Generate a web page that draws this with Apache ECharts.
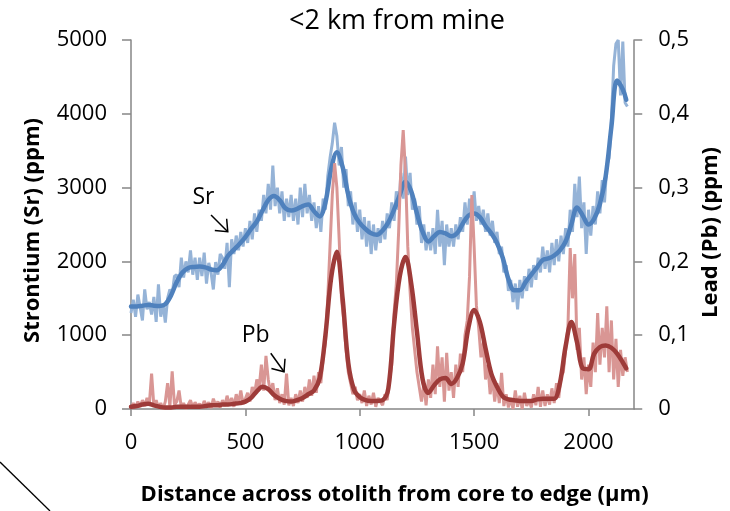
<!DOCTYPE html>
<html>
<head>
<meta charset="utf-8">
<script src="https://cdn.jsdelivr.net/npm/echarts@6/dist/echarts.min.js"></script>
<style>
  html, body { margin: 0; padding: 0; background: #fff; }
  #chart { width: 730px; height: 511px; }
</style>
</head>
<body>
<div id="chart"></div>
<script>
// Otolith transect: Sr (left axis, ppm) and Pb (right axis, ppm)

// raw laser-ablation readings, one every 10 µm from the core
const rawStep = 10;
const srRaw = [
  1300, 1480, 1250, 1550, 1380, 1200, 1620, 1350, 1450, 1280,
  1520, 1180, 1690, 1250, 1430, 1170, 1500, 1620, 1560, 1800,
  1820, 1650, 2050, 1780, 2000, 1850, 2150, 1820, 2050, 1750,
  2050, 1800, 2120, 1700, 1980, 1850, 1620, 1990, 1820, 2100,
  2050, 1900, 2250, 1650, 2300, 2100, 2350, 2150, 2400, 2200,
  2450, 2250, 2550, 2300, 2650, 2400, 2700, 2550, 2900, 2650,
  3050, 2700, 3300, 2750, 3000, 2650, 2950, 2550, 2850, 2600,
  2900, 2550, 2850, 2500, 3000, 2600, 3050, 2650, 2900, 2550,
  2800, 2450, 2750, 2400, 2850, 2700, 3150, 3400, 3600, 3880,
  3700, 3300, 3550, 3000, 3250, 2750, 2950, 2500, 2800, 2400,
  2700, 2300, 2600, 2200, 2550, 2100, 2500, 2150, 2450, 2250,
  2550, 2300, 2650, 2450, 2800, 2550, 2950, 2700, 3200, 2850,
  3420, 2900, 3200, 2700, 2850, 2500, 2750, 2250, 2500, 2150,
  2400, 2150, 2450, 2100, 2700, 2200, 2550, 1950, 2500, 2200,
  2450, 2200, 2500, 2300, 2600, 2400, 2800, 2500, 2850, 2600,
  2950, 2550, 2750, 2500, 2700, 2400, 2650, 2350, 2550, 2250,
  2400, 2100, 2200, 1850, 1950, 1600, 1750, 1450, 1700, 1350,
  1750, 1500, 1800, 1600, 1900, 1650, 1950, 1750, 2050, 1850,
  2200, 1900, 2150, 1850, 2250, 1950, 2300, 2000, 2350, 2100,
  2450, 2200, 2700, 2400, 3050, 2600, 3150, 2450, 2800, 2100,
  2700, 2350, 2750, 2500, 2950, 2650, 3100, 2800, 3300, 3400,
  3900, 4650, 4950, 5000, 4250, 4980, 4150, 4100
];
const pbRaw = [
  0.000, 0.008, 0.002, 0.010, 0.003, 0.012, 0.004, 0.015, 0.006, 0.048,
  0.004, 0.012, 0.002, 0.008, 0.000, 0.010, 0.035, 0.003, 0.051, 0.006,
  0.010, 0.025, 0.002, 0.008, 0.000, 0.006, 0.012, 0.002, 0.009, 0.004,
  0.007, 0.002, 0.011, 0.004, 0.009, 0.001, 0.014, 0.005, 0.010, 0.002,
  0.012, 0.004, 0.018, 0.006, 0.015, 0.003, 0.020, 0.008, 0.025, 0.007,
  0.014, 0.022, 0.010, 0.030, 0.020, 0.040, 0.028, 0.060, 0.025, 0.072,
  0.040, 0.022, 0.035, 0.012, 0.028, 0.008, 0.020, 0.006, 0.048, 0.005,
  0.015, 0.004, 0.020, 0.008, 0.025, 0.010, 0.030, 0.015, 0.040, 0.018,
  0.045, 0.022, 0.050, 0.035, 0.070, 0.090, 0.150, 0.220, 0.290, 0.333,
  0.300, 0.230, 0.150, 0.120, 0.080, 0.050, 0.035, 0.020, 0.030, 0.012,
  0.020, 0.008, 0.025, 0.004, 0.018, 0.006, 0.022, 0.003, 0.015, 0.010,
  0.005, 0.020, 0.012, 0.040, 0.060, 0.130, 0.170, 0.240, 0.330, 0.378,
  0.320, 0.220, 0.160, 0.110, 0.080, 0.050, 0.030, 0.010, 0.035, 0.005,
  0.040, 0.015, 0.060, 0.020, 0.085, 0.030, 0.070, 0.010, 0.076, 0.025,
  0.050, 0.015, 0.060, 0.030, 0.075, 0.050, 0.100, 0.120, 0.180, 0.290,
  0.220, 0.140, 0.110, 0.070, 0.090, 0.040, 0.060, 0.020, 0.045, 0.010,
  0.035, 0.008, 0.049, 0.004, 0.020, 0.002, 0.015, 0.000, 0.025, 0.003,
  0.018, 0.000, 0.022, 0.004, 0.012, 0.002, 0.020, 0.005, 0.030, 0.003,
  0.025, 0.004, 0.020, 0.006, 0.028, 0.008, 0.035, 0.015, 0.045, 0.050,
  0.080, 0.110, 0.218, 0.150, 0.210, 0.080, 0.110, 0.040, 0.070, 0.020,
  0.060, 0.030, 0.090, 0.050, 0.130, 0.060, 0.110, 0.070, 0.139, 0.050,
  0.120, 0.040, 0.095, 0.030, 0.080, 0.045, 0.070, 0.050
];

// running-mean curves
const smoothDist = [
  0, 25, 50, 75, 100, 125, 150, 175, 200, 225,
  250, 275, 300, 325, 350, 375, 400, 425, 450, 475,
  500, 525, 550, 575, 600, 625, 650, 675, 700, 725,
  750, 775, 800, 825, 850, 875, 900, 925, 950, 975,
  1000, 1025, 1050, 1075, 1100, 1125, 1150, 1175, 1200, 1225,
  1250, 1275, 1300, 1325, 1350, 1375, 1400, 1425, 1450, 1475,
  1500, 1525, 1550, 1575, 1600, 1625, 1650, 1675, 1700, 1725,
  1750, 1775, 1800, 1825, 1850, 1875, 1900, 1925, 1950, 1975,
  2000, 2025, 2050, 2075, 2100, 2125, 2150, 2165
];
const srSmooth = [
  1390, 1390, 1400, 1410, 1400, 1395, 1420, 1540, 1720, 1850,
  1910, 1925, 1930, 1920, 1890, 1880, 1950, 2080, 2160, 2240,
  2330, 2440, 2540, 2690, 2830, 2885, 2830, 2720, 2690, 2710,
  2750, 2770, 2680, 2610, 2800, 3250, 3480, 3280, 2900, 2650,
  2520, 2440, 2380, 2360, 2420, 2530, 2700, 2900, 3080, 2950,
  2650, 2400, 2270, 2340, 2400, 2380, 2340, 2380, 2510, 2620,
  2650, 2600, 2480, 2380, 2250, 2050, 1760, 1610, 1610, 1720,
  1820, 1920, 2020, 2040, 2080, 2150, 2270, 2500, 2730, 2620,
  2500, 2580, 2780, 3150, 3820, 4450, 4330, 4190
];
const pbSmooth = [
  0.003, 0.004, 0.006, 0.007, 0.005, 0.003, 0.002, 0.002, 0.003, 0.003,
  0.003, 0.003, 0.003, 0.004, 0.005, 0.005, 0.006, 0.006, 0.007, 0.008,
  0.010, 0.015, 0.024, 0.030, 0.027, 0.019, 0.014, 0.011, 0.010, 0.012,
  0.015, 0.020, 0.025, 0.042, 0.100, 0.178, 0.213, 0.150, 0.062, 0.026,
  0.016, 0.012, 0.011, 0.011, 0.012, 0.028, 0.115, 0.180, 0.206, 0.170,
  0.105, 0.040, 0.022, 0.032, 0.040, 0.042, 0.034, 0.042, 0.062, 0.110,
  0.134, 0.118, 0.082, 0.048, 0.030, 0.017, 0.013, 0.012, 0.011, 0.011,
  0.011, 0.013, 0.014, 0.014, 0.014, 0.035, 0.085, 0.118, 0.090, 0.055,
  0.054, 0.075, 0.084, 0.086, 0.083, 0.075, 0.063, 0.055
];

// axis ticks
const distTicks = [0, 500, 1000, 1500, 2000];

const pairs = (xs, ys) => ys.map((v, i) => [xs[i], v]);
const rawDist = srRaw.map((_, i) => i * rawStep);

const FONT = 'Open Sans';
const AXIS_GREY = '#868686';
const nameStyle = { fontFamily: FONT, fontSize: 22, fontWeight: 'bold', color: '#000' };

const chart = echarts.init(document.getElementById('chart'), null, { renderer: 'canvas' });

chart.setOption({
  animation: false,
  backgroundColor: '#ffffff',
  textStyle: { fontFamily: FONT, color: '#000' },
  title: {
    text: '<2 km from mine',
    left: 392,
    textAlign: 'center',
    top: 3,
    textStyle: { fontFamily: FONT, fontSize: 27, fontWeight: 'normal', color: '#000' }
  },
  grid: { left: 131, right: 92, top: 40, bottom: 102 },
  xAxis: {
    type: 'value',
    min: 0,
    max: 2200,
    interval: 500,
    name: 'Distance across otolith from core to edge (µm)',
    nameLocation: 'middle',
    nameGap: 75,
    nameTextStyle: Object.assign({}, nameStyle, { padding: [0, 0, 0, 24] }),
    axisLine: { onZero: false, lineStyle: { color: AXIS_GREY, width: 1.5 } },
    axisTick: { show: true, inside: false, length: 7, customValues: distTicks,
                lineStyle: { color: AXIS_GREY, width: 1.5 } },
    axisLabel: { customValues: distTicks, margin: 23, fontFamily: FONT, fontSize: 22, color: '#000',
                 formatter: v => String(v) },
    splitLine: { show: false }
  },
  yAxis: [
    {
      type: 'value',
      position: 'left',
      min: 0,
      max: 5000,
      interval: 1000,
      name: 'Strontium (Sr) (ppm)',
      nameLocation: 'middle',
      nameRotate: 90,
      nameGap: 87,
      nameTextStyle: Object.assign({}, nameStyle, { padding: [0, 12, 0, 0] }),
      axisLine: { show: true, lineStyle: { color: AXIS_GREY, width: 1.5 } },
      axisTick: { show: true, length: 9, lineStyle: { color: AXIS_GREY, width: 1.5 } },
      axisLabel: { margin: 24, fontFamily: FONT, fontSize: 22, color: '#000',
                   formatter: v => String(v) },
      splitLine: { show: false }
    },
    {
      type: 'value',
      position: 'right',
      min: 0,
      max: 0.5,
      interval: 0.1,
      name: 'Lead (Pb) (ppm)',
      nameLocation: 'middle',
      nameRotate: 90,
      nameGap: 63,
      nameTextStyle: Object.assign({}, nameStyle, { padding: [0, 16, 0, 0] }),
      axisLine: { show: true, lineStyle: { color: AXIS_GREY, width: 1.5 } },
      axisTick: { show: true, length: 8, lineStyle: { color: AXIS_GREY, width: 1.5 } },
      axisLabel: {
        margin: 24, fontFamily: FONT, fontSize: 22, color: '#000',
        formatter: v => (v === 0 ? '0' : v.toFixed(1).replace('.', ','))
      },
      splitLine: { show: false }
    }
  ],
  series: [
    {
      name: 'Sr raw',
      type: 'line',
      yAxisIndex: 0,
      data: pairs(rawDist, srRaw),
      showSymbol: false,
      symbol: 'none',
      lineStyle: { color: '#95B3D7', width: 3 },
      z: 2
    },
    {
      name: 'Sr',
      type: 'line',
      yAxisIndex: 0,
      data: pairs(smoothDist, srSmooth),
      showSymbol: false,
      symbol: 'none',
      smooth: 0.35,
      lineStyle: { color: '#4F81BD', width: 4.5, cap: 'round', join: 'round' },
      z: 3
    },
    {
      name: 'Pb raw',
      type: 'line',
      yAxisIndex: 1,
      data: pairs(rawDist, pbRaw),
      showSymbol: false,
      symbol: 'none',
      lineStyle: { color: '#D99694', width: 3 },
      z: 4
    },
    {
      name: 'Pb',
      type: 'line',
      yAxisIndex: 1,
      data: pairs(smoothDist, pbSmooth),
      showSymbol: false,
      symbol: 'none',
      smooth: 0.35,
      lineStyle: { color: '#9E3B39', width: 4.5, cap: 'round', join: 'round' },
      z: 5
    }
  ]
});

// series labels with pointer arrows, anchored in Sr-axis units
const notes = [
  { text: 'Sr', at: [317, 2860], from: [350, 2629], to: [423, 2402] },
  { text: 'Pb', at: [545, 1003], from: [611, 755], to: [669, 505] }
];

function annotate() {
  const els = [];
  notes.forEach(n => {
    const t = chart.convertToPixel({ gridIndex: 0 }, n.at);
    const a = chart.convertToPixel({ gridIndex: 0 }, n.from);
    const b = chart.convertToPixel({ gridIndex: 0 }, n.to);
    els.push({
      type: 'text', silent: true, z: 10,
      style: { text: n.text, x: t[0], y: t[1], align: 'center', verticalAlign: 'middle',
               font: '23px "' + FONT + '"', fill: '#000' }
    });
    els.push({
      type: 'line', silent: true, z: 10,
      shape: { x1: a[0], y1: a[1], x2: b[0], y2: b[1] },
      style: { stroke: '#000', lineWidth: 1.5 }
    });
    const ang = Math.atan2(a[1] - b[1], a[0] - b[0]);
    const len = 13, spread = Math.PI / 4.5;
    els.push({
      type: 'polyline', silent: true, z: 10,
      shape: { points: [
        [b[0] + len * Math.cos(ang + spread), b[1] + len * Math.sin(ang + spread)],
        [b[0], b[1]],
        [b[0] + len * Math.cos(ang - spread), b[1] + len * Math.sin(ang - spread)]
      ] },
      style: { stroke: '#000', lineWidth: 1.5, fill: null }
    });
  });
  // stray rule at the lower-left corner
  els.push({
    type: 'line', silent: true, z: 10,
    shape: { x1: 0, y1: 462, x2: 50, y2: 511 },
    style: { stroke: '#000', lineWidth: 1.3 }
  });
  chart.setOption({ graphic: els });
}
annotate();
</script>
</body>
</html>
